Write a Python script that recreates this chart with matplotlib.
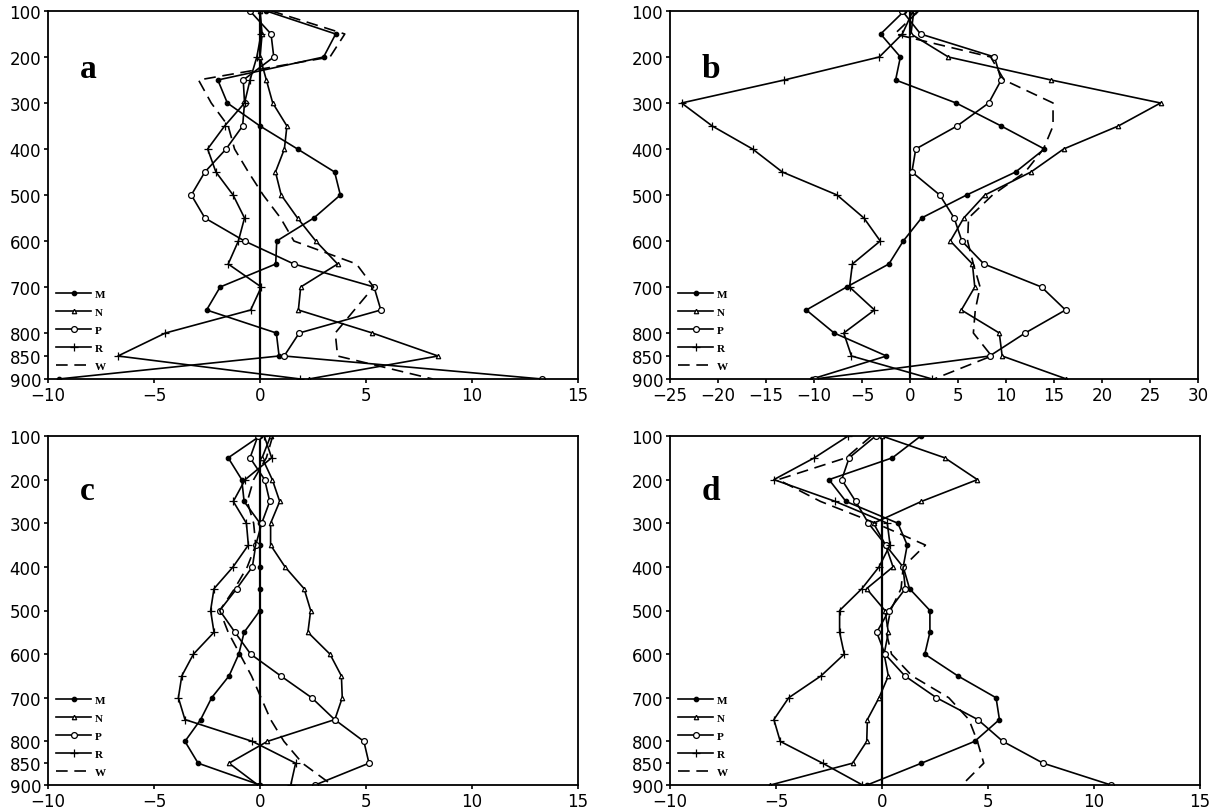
import matplotlib
matplotlib.use("Agg")
import matplotlib.pyplot as plt

levels = [100, 150, 200, 250, 300, 350, 400, 450, 500, 550, 600, 650, 700, 750, 800, 850, 900]
yticks = [100, 200, 300, 400, 500, 600, 700, 800, 850, 900]
names = ["M", "N", "P", "R", "W"]

# panel a
a_M = [0.3, 3.57, 3.0, -1.99, -1.54, 0.0, 1.77, 3.52, 3.79, 2.54, 0.79, 0.74, -1.88, -2.52, 0.77, 0.9, -9.5]
a_N = [0.0, 0.1, 0.0, 0.3, 0.6, 1.27, 1.15, 0.73, 1.0, 1.77, 2.63, 3.66, 1.92, 1.81, 5.3, 8.4, 2.3]
a_P = [-0.47, 0.52, 0.65, -0.79, -0.73, -0.82, -1.6, -2.6, -3.24, -2.6, -0.73, 1.6, 5.38, 5.7, 1.85, 1.14, 13.3]
a_R = [0.0, 0.05, -0.15, -0.47, -0.73, -1.67, -2.47, -2.08, -1.27, -0.73, -1.02, -1.5, 0.06, -0.44, -4.46, -6.7, 1.9]
a_W = [0.55, 4.0, 3.3, -2.9, -2.3, -1.5, -1.2, -0.55, 0.15, 0.97, 1.6, 4.55, 5.36, 4.45, 3.55, 3.66, 8.15]

# panel b
b_M = [-0.6, -3.06, -1.0, -1.5, 4.8, 9.5, 14.0, 11.0, 5.9, 1.2, -0.7, -2.2, -6.6, -10.8, -7.9, -2.45, -10.2]
b_N = [0.4, 0.1, 4.0, 14.7, 26.1, 21.7, 16.0, 12.6, 7.8, 5.6, 4.2, 6.5, 6.75, 5.35, 9.3, 9.6, 16.3]
b_P = [-0.8, 1.1, 8.8, 9.5, 8.2, 4.9, 0.6, 0.2, 3.1, 4.6, 5.4, 7.7, 13.7, 16.2, 12.0, 8.3, -9.9]
b_R = [0.3, -0.8, -3.2, -13.1, -23.8, -20.6, -16.4, -13.3, -7.6, -4.8, -3.1, -6.0, -6.3, -3.7, -6.9, -6.1, 2.3]
b_W = [0.9, -1.6, 8.4, 9.8, 14.9, 14.9, 13.9, 12.0, 8.6, 6.1, 6.0, 6.6, 7.3, 6.8, 6.6, 8.5, 2.5]

# panel c
c_M = [0.0, -1.5, -0.86, -0.75, 0.0, 0.0, 0.0, 0.0, 0.0, -0.75, -1.0, -1.46, -2.28, -2.8, -3.54, -2.92, 0.0]
c_N = [0.5, 0.1, 0.58, 0.93, 0.5, 0.5, 1.18, 2.08, 2.39, 2.26, 3.3, 3.84, 3.88, 3.53, 0.35, -1.46, -0.1]
c_P = [-0.1, -0.47, 0.22, 0.46, 0.08, -0.2, -0.36, -1.1, -1.9, -1.18, -0.44, 0.98, 2.44, 3.52, 4.9, 5.14, 2.6]
c_R = [0.2, 0.55, -0.7, -1.26, -0.64, -0.55, -1.27, -2.17, -2.33, -2.17, -3.14, -3.69, -3.85, -3.54, -0.36, 1.68, 1.45]
c_W = [0.6, 0.3, -0.3, -0.6, -0.3, -0.2, -0.6, -1.2, -1.9, -1.5, -0.95, -0.4, 0.05, 0.5, 1.13, 2.0, 3.4]

# panel d
d_M = [1.83, 0.49, -2.5, -1.7, 0.75, 1.19, 1.0, 1.3, 2.26, 2.26, 2.02, 3.58, 5.38, 5.54, 4.37, 1.86, -0.7]
d_N = [0.0, 2.96, 4.5, 1.86, -0.4, 0.17, 0.52, -0.73, 0.14, 0.3, 0.1, 0.3, -0.14, -0.69, -0.72, -1.39, -5.26]
d_P = [-0.3, -1.55, -1.9, -1.24, -0.64, 0.17, 0.99, 1.1, 0.33, -0.25, 0.14, 1.08, 2.57, 4.52, 5.7, 7.6, 10.8]
d_R = [-1.6, -3.19, -5.1, -2.2, 0.25, 0.38, -0.14, -0.95, -2.0, -2.0, -1.78, -2.88, -4.4, -5.1, -4.8, -2.8, -0.92]
d_W = [-0.5, -1.7, -4.9, -2.9, -0.3, 2.05, 1.0, 0.9, 0.4, 0.2, 0.45, 1.42, 3.15, 4.1, 4.5, 4.8, 3.77]

panels = [
    ("a", [a_M, a_N, a_P, a_R, a_W], (-10, 15)),
    ("b", [b_M, b_N, b_P, b_R, b_W], (-25, 30)),
    ("c", [c_M, c_N, c_P, c_R, c_W], (-10, 15)),
    ("d", [d_M, d_N, d_P, d_R, d_W], (-10, 15)),
]

styles = [
    dict(marker="o", ms=3.2, mfc="k", ls="-"),
    dict(marker="^", ms=3.2, mfc="white", ls="-"),
    dict(marker="o", ms=4.2, mfc="white", ls="-"),
    dict(marker="+", ms=6, ls="-"),
    dict(marker=None, ls=(0, (7, 4))),
]

W, H = 1217, 812
fig = plt.figure(figsize=(W / 100, H / 100), dpi=100)
boxes = [
    (48, 12, 578, 380),
    (670, 12, 1198, 380),
    (48, 437, 578, 786),
    (670, 437, 1200, 786),
]

for (letter, series, xl), (x0, y0, x1, y1) in zip(panels, boxes):
    ax = fig.add_axes([x0 / W, 1 - y1 / H, (x1 - x0) / W, (y1 - y0) / H])
    ax.axvline(0, color="k", lw=1.6, zorder=1)
    for name, vals, st in zip(names, series, styles):
        ax.plot(vals, levels, color="k", lw=1.2, mec="k", mew=0.9, label=name, **st)
    ax.set_xlim(*xl)
    ax.set_ylim(900, 100)
    ax.set_yticks(yticks)
    ax.set_xticks(range(xl[0], xl[1] + 1, 5))
    ax.tick_params(direction="out", length=3, width=1.2, labelsize=12, pad=2,
                   top=False, right=False)
    for sp in ax.spines.values():
        sp.set_linewidth(1.3)
    ax.text(0.06, 0.82, letter, transform=ax.transAxes, fontsize=24,
            fontweight="bold", family="Liberation Serif")
    ax.legend(loc="lower left", frameon=False,
              handlelength=3.2, handletextpad=0.3, labelspacing=0.75,
              borderaxespad=0.3, prop={"family": "Liberation Serif",
                                       "weight": "bold", "size": 8})

fig.savefig("out.png", dpi=100)
